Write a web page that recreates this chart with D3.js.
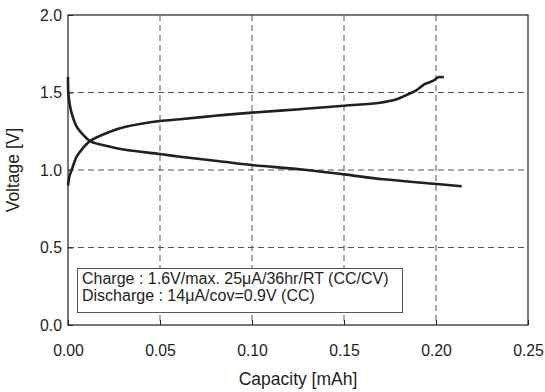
<!DOCTYPE html>
<html>
<head>
<meta charset="utf-8">
<script src="https://cdnjs.cloudflare.com/ajax/libs/d3/7.8.5/d3.min.js"></script>
<style>
  body { margin: 0; background: #fff; }
  svg { display: block; font-family: "Liberation Sans", Arial, Helvetica, sans-serif; }
</style>
</head>
<body>
<svg id="chart" width="545" height="392"></svg>
<script>
// values
var chargeCap = [0, 0.0008, 0.002, 0.0047, 0.008, 0.012, 0.0228, 0.0319, 0.05, 0.0609, 0.08, 0.1, 0.126, 0.15, 0.1696, 0.1786, 0.184, 0.1895, 0.194, 0.1986, 0.2012, 0.2043];
var chargeV   = [0.90, 0.96, 1.0, 1.086, 1.14, 1.187, 1.247, 1.28, 1.316, 1.327, 1.35, 1.37, 1.392, 1.415, 1.434, 1.456, 1.484, 1.516, 1.555, 1.576, 1.598, 1.598];
var dischargeCap = [0, 0.0002, 0.001, 0.002, 0.0047, 0.008, 0.012, 0.0228, 0.0319, 0.05, 0.0609, 0.08, 0.1, 0.126, 0.15, 0.1714, 0.2004, 0.214];
var dischargeV   = [1.60, 1.495, 1.42, 1.366, 1.28, 1.23, 1.187, 1.15, 1.129, 1.103, 1.086, 1.06, 1.032, 1.005, 0.972, 0.94, 0.91, 0.895];
var xTicks = [0, 0.05, 0.10, 0.15, 0.20, 0.25];
var yTicks = [0, 0.5, 1.0, 1.5, 2.0];
var legendLines = ["Charge : 1.6V/max. 25\u03bcA/36hr/RT (CC/CV)", "Discharge : 14\u03bcA/cov=0.9V (CC)"];

var margin = {left: 68, right: 17, top: 15, bottom: 67};
var W = 545, H = 392;

var svg = d3.select("#chart");

var x = d3.scaleLinear().domain([0, 0.25]).range([margin.left, W - margin.right]);
var y = d3.scaleLinear().domain([0, 2.0]).range([H - margin.bottom, margin.top]);

var ink = "#231f20";

// dashed grid, inner lines only
svg.append("g").selectAll("line").data(xTicks.slice(1, -1)).enter()
    .append("line")
        .attr("x1", function(d) { return x(d); })
        .attr("x2", function(d) { return x(d); })
        .attr("y1", y(2.0))
        .attr("y2", y(0))
        .attr("stroke", "#555")
        .attr("stroke-width", 1)
        .attr("stroke-dasharray", "6,4");

svg.append("g").selectAll("line").data(yTicks.slice(1, -1)).enter()
    .append("line")
        .attr("x1", x(0))
        .attr("x2", x(0.25))
        .attr("y1", function(d) { return y(d); })
        .attr("y2", function(d) { return y(d); })
        .attr("stroke", "#555")
        .attr("stroke-width", 1)
        .attr("stroke-dasharray", "6,4");

// axes with short inward ticks
var xAxis = svg.append("g")
    .attr("transform", "translate(0," + y(0) + ")")
    .call(d3.axisBottom(x).tickValues(xTicks).tickFormat(d3.format(".2f")).tickSizeInner(-5).tickSizeOuter(0).tickPadding(16));
var yAxis = svg.append("g")
    .attr("transform", "translate(" + x(0) + ",0)")
    .call(d3.axisLeft(y).tickValues(yTicks).tickFormat(d3.format(".1f")).tickSizeInner(-5).tickSizeOuter(0).tickPadding(6));

[xAxis, yAxis].forEach(function(a) {
    a.select(".domain").remove();
    a.selectAll(".tick line").attr("stroke", ink);
    a.selectAll(".tick text")
        .attr("fill", ink)
        .style("font-size", "15.8px")
        .style("font-family", "'Liberation Sans', Arial, sans-serif");
});
xAxis.selectAll(".tick text").attr("dy", "0.71em").attr("y", 20);

// plot frame
svg.append("rect")
    .attr("x", x(0))
    .attr("y", y(2.0))
    .attr("width", x(0.25) - x(0))
    .attr("height", y(0) - y(2.0))
    .attr("fill", "none")
    .attr("stroke", ink)
    .attr("stroke-width", 1.2);

// curves
var line = d3.line()
    .x(function(d) { return x(d[0]); })
    .y(function(d) { return y(d[1]); })
    .curve(d3.curveCatmullRom.alpha(0.5));

var series = [
    d3.zip(chargeCap, chargeV),
    d3.zip(dischargeCap, dischargeV)
];

svg.append("g").selectAll("path").data(series).enter()
    .append("path")
        .attr("d", line)
        .attr("fill", "none")
        .attr("stroke", ink)
        .attr("stroke-width", 2.6)
        .attr("stroke-linejoin", "round")
        .attr("stroke-linecap", "butt");

// legend box
var box = svg.append("g");
box.append("rect")
    .attr("x", 77.5)
    .attr("y", 268.5)
    .attr("width", 325)
    .attr("height", 44)
    .attr("fill", "#fff")
    .attr("stroke", "#555")
    .attr("stroke-width", 1);

box.selectAll("text").data(legendLines).enter()
    .append("text")
        .attr("x", 82)
        .attr("y", function(d, i) { return 283.5 + i * 17.4; })
        .attr("fill", ink)
        .style("font-size", "16px")
        .text(function(d) { return d; });

// axis titles
svg.append("text")
    .attr("x", (x(0) + x(0.25)) / 2)
    .attr("y", 385)
    .attr("text-anchor", "middle")
    .attr("fill", ink)
    .style("font-size", "17.5px")
    .text("Capacity [mAh]");

svg.append("text")
    .attr("transform", "translate(19," + (y(0) + y(2.0)) / 2 + ") rotate(-90)")
    .attr("text-anchor", "middle")
    .attr("fill", ink)
    .style("font-size", "17.5px")
    .text("Voltage [V]");
</script>
</body>
</html>
